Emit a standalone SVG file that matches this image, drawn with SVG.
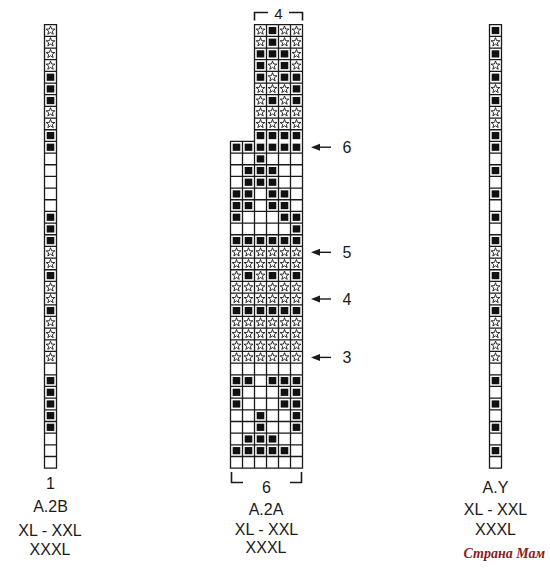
<svg xmlns="http://www.w3.org/2000/svg" xmlns:xlink="http://www.w3.org/1999/xlink" width="550" height="569" viewBox="0 0 550 569">
<style>
.grid{fill:none;stroke:#1a1a1a;stroke-width:1.3}
.bg{fill:#fff}
.t{font-family:"Liberation Sans",Arial,sans-serif;font-size:16px;fill:#1a1a1a;text-anchor:middle}
.br{fill:none;stroke:#1a1a1a;stroke-width:1.6}
.ar{stroke:#1a1a1a;stroke-width:1.4;fill:none}
</style>
<defs>
<rect id="B" x="-3.8" y="-3.6" width="7.6" height="7.2" fill="#111"/>
<path id="S" d="M0,-4.6L1.12,-1.54L4.38,-1.42L1.81,0.59L2.7,3.72L0,1.9L-2.7,3.72L-1.81,0.59L-4.38,-1.42L-1.12,-1.54Z" fill="none" stroke="#1a1a1a" stroke-width="0.9" stroke-linejoin="miter"/>
<marker id="ah" markerUnits="userSpaceOnUse" markerWidth="9" markerHeight="8" refX="0" refY="3.5" orient="auto" viewBox="0 0 9 7">
<path d="M0,0L9,3.5L0,7Z" fill="#1a1a1a"/>
</marker>
</defs>
<rect width="550" height="569" fill="#fff"/>

<g id="chart-A2B">
<rect class="bg" x="44.5" y="24.7" width="12" height="443.46"/>
<path class="grid" d="M44.5 24.7H56.5V468.16H44.5Z M44.5 36.37h12M44.5 48.04h12M44.5 59.71h12M44.5 71.38h12M44.5 83.05h12M44.5 94.72h12M44.5 106.39h12M44.5 118.06h12M44.5 129.73h12M44.5 141.4h12M44.5 153.07h12M44.5 164.74h12M44.5 176.41h12M44.5 188.08h12M44.5 199.75h12M44.5 211.42h12M44.5 223.09h12M44.5 234.76h12M44.5 246.43h12M44.5 258.1h12M44.5 269.77h12M44.5 281.44h12M44.5 293.11h12M44.5 304.78h12M44.5 316.45h12M44.5 328.12h12M44.5 339.79h12M44.5 351.46h12M44.5 363.13h12M44.5 374.8h12M44.5 386.47h12M44.5 398.14h12M44.5 409.81h12M44.5 421.48h12M44.5 433.15h12M44.5 444.82h12M44.5 456.49h12"/>
<g transform="translate(50.5,0)">
<use href="#S" y="30.54"/><use href="#S" y="42.21"/><use href="#S" y="53.88"/><use href="#S" y="65.55"/>
<use href="#B" y="77.22"/><use href="#B" y="88.89"/><use href="#B" y="100.56"/>
<use href="#S" y="112.23"/><use href="#S" y="123.9"/>
<use href="#B" y="135.57"/><use href="#B" y="147.24"/>
<use href="#B" y="217.26"/><use href="#B" y="228.93"/><use href="#B" y="240.6"/>
<use href="#S" y="252.27"/><use href="#S" y="263.94"/>
<use href="#B" y="275.61"/>
<use href="#S" y="287.28"/><use href="#S" y="298.95"/>
<use href="#B" y="310.62"/>
<use href="#S" y="322.29"/><use href="#S" y="333.96"/><use href="#S" y="345.63"/><use href="#S" y="357.3"/>
<use href="#B" y="380.64"/><use href="#B" y="392.31"/><use href="#B" y="403.98"/><use href="#B" y="415.65"/><use href="#B" y="427.32"/>
</g>
<text class="t" x="50.5" y="489">1</text>
<text class="t" x="50.5" y="512">A.2B</text>
<text class="t" x="50" y="536">XL - XXL</text>
<text class="t" x="50" y="555">XXXL</text>
</g>

<g id="chart-A2A">
<rect class="bg" x="254.5" y="24.7" width="48" height="116.7"/>
<rect class="bg" x="230.5" y="141.4" width="72" height="326.76"/>
<path class="grid" d="M254.5 24.7H302.5V468.16H230.5V141.4H254.5Z
M254.5 36.37h48M254.5 48.04h48M254.5 59.71h48M254.5 71.38h48M254.5 83.05h48M254.5 94.72h48M254.5 106.39h48M254.5 118.06h48M254.5 129.73h48
M254.5 141.4V468.16M266.5 24.7V468.16M278.5 24.7V468.16M290.5 24.7V468.16M242.5 141.4V468.16
M230.5 153.07h72M230.5 164.74h72M230.5 176.41h72M230.5 188.08h72M230.5 199.75h72M230.5 211.42h72M230.5 223.09h72M230.5 234.76h72M230.5 246.43h72M230.5 258.1h72M230.5 269.77h72M230.5 281.44h72M230.5 293.11h72M230.5 304.78h72M230.5 316.45h72M230.5 328.12h72M230.5 339.79h72M230.5 351.46h72M230.5 363.13h72M230.5 374.8h72M230.5 386.47h72M230.5 398.14h72M230.5 409.81h72M230.5 421.48h72M230.5 433.15h72M230.5 444.82h72M230.5 456.49h72"/>
<g transform="translate(0,30.54)"><use href="#S" x="260.5"/><use href="#B" x="272.5"/><use href="#S" x="284.5"/><use href="#S" x="296.5"/></g>
<g transform="translate(0,42.21)"><use href="#S" x="260.5"/><use href="#B" x="272.5"/><use href="#S" x="284.5"/><use href="#S" x="296.5"/></g>
<g transform="translate(0,53.88)"><use href="#B" x="260.5"/><use href="#B" x="272.5"/><use href="#B" x="284.5"/><use href="#S" x="296.5"/></g>
<g transform="translate(0,65.55)"><use href="#B" x="260.5"/><use href="#S" x="272.5"/><use href="#B" x="284.5"/><use href="#S" x="296.5"/></g>
<g transform="translate(0,77.22)"><use href="#B" x="260.5"/><use href="#S" x="272.5"/><use href="#B" x="284.5"/><use href="#B" x="296.5"/></g>
<g transform="translate(0,88.89)"><use href="#S" x="260.5"/><use href="#S" x="272.5"/><use href="#S" x="284.5"/><use href="#B" x="296.5"/></g>
<g transform="translate(0,100.56)"><use href="#S" x="260.5"/><use href="#B" x="272.5"/><use href="#S" x="284.5"/><use href="#B" x="296.5"/></g>
<g transform="translate(0,112.23)"><use href="#S" x="260.5"/><use href="#S" x="272.5"/><use href="#S" x="284.5"/><use href="#S" x="296.5"/></g>
<g transform="translate(0,123.9)"><use href="#S" x="260.5"/><use href="#S" x="272.5"/><use href="#S" x="284.5"/><use href="#S" x="296.5"/></g>
<g transform="translate(0,135.57)"><use href="#B" x="260.5"/><use href="#B" x="272.5"/><use href="#B" x="284.5"/><use href="#B" x="296.5"/></g>
<g transform="translate(0,147.24)"><use href="#B" x="236.5"/><use href="#B" x="248.5"/><use href="#B" x="260.5"/><use href="#B" x="272.5"/><use href="#B" x="284.5"/><use href="#B" x="296.5"/></g>
<g transform="translate(0,158.91)"><use href="#B" x="260.5"/></g>
<g transform="translate(0,170.58)"><use href="#B" x="248.5"/><use href="#B" x="260.5"/><use href="#B" x="272.5"/></g>
<g transform="translate(0,182.25)"><use href="#B" x="248.5"/><use href="#B" x="260.5"/><use href="#B" x="272.5"/></g>
<g transform="translate(0,193.92)"><use href="#B" x="236.5"/><use href="#B" x="248.5"/><use href="#B" x="272.5"/><use href="#B" x="284.5"/></g>
<g transform="translate(0,205.59)"><use href="#B" x="236.5"/><use href="#B" x="248.5"/><use href="#B" x="272.5"/><use href="#B" x="284.5"/></g>
<g transform="translate(0,217.26)"><use href="#B" x="236.5"/><use href="#B" x="284.5"/><use href="#B" x="296.5"/></g>
<g transform="translate(0,228.93)"><use href="#B" x="296.5"/></g>
<g transform="translate(0,240.6)"><use href="#B" x="236.5"/><use href="#B" x="248.5"/><use href="#B" x="260.5"/><use href="#B" x="272.5"/><use href="#B" x="284.5"/><use href="#B" x="296.5"/></g>
<g transform="translate(0,252.27)"><use href="#S" x="236.5"/><use href="#S" x="248.5"/><use href="#S" x="260.5"/><use href="#S" x="272.5"/><use href="#S" x="284.5"/><use href="#S" x="296.5"/></g>
<g transform="translate(0,263.94)"><use href="#S" x="236.5"/><use href="#S" x="248.5"/><use href="#S" x="260.5"/><use href="#S" x="272.5"/><use href="#S" x="284.5"/><use href="#S" x="296.5"/></g>
<g transform="translate(0,275.61)"><use href="#S" x="236.5"/><use href="#B" x="248.5"/><use href="#S" x="260.5"/><use href="#B" x="272.5"/><use href="#S" x="284.5"/><use href="#B" x="296.5"/></g>
<g transform="translate(0,287.28)"><use href="#S" x="236.5"/><use href="#S" x="248.5"/><use href="#S" x="260.5"/><use href="#S" x="272.5"/><use href="#S" x="284.5"/><use href="#S" x="296.5"/></g>
<g transform="translate(0,298.95)"><use href="#S" x="236.5"/><use href="#S" x="248.5"/><use href="#S" x="260.5"/><use href="#S" x="272.5"/><use href="#S" x="284.5"/><use href="#S" x="296.5"/></g>
<g transform="translate(0,310.62)"><use href="#B" x="236.5"/><use href="#B" x="248.5"/><use href="#B" x="260.5"/><use href="#B" x="272.5"/><use href="#B" x="284.5"/><use href="#B" x="296.5"/></g>
<g transform="translate(0,322.29)"><use href="#S" x="236.5"/><use href="#S" x="248.5"/><use href="#S" x="260.5"/><use href="#S" x="272.5"/><use href="#S" x="284.5"/><use href="#S" x="296.5"/></g>
<g transform="translate(0,333.96)"><use href="#S" x="236.5"/><use href="#S" x="248.5"/><use href="#S" x="260.5"/><use href="#S" x="272.5"/><use href="#S" x="284.5"/><use href="#S" x="296.5"/></g>
<g transform="translate(0,345.63)"><use href="#S" x="236.5"/><use href="#S" x="248.5"/><use href="#S" x="260.5"/><use href="#S" x="272.5"/><use href="#S" x="284.5"/><use href="#S" x="296.5"/></g>
<g transform="translate(0,357.3)"><use href="#S" x="236.5"/><use href="#S" x="248.5"/><use href="#S" x="260.5"/><use href="#S" x="272.5"/><use href="#S" x="284.5"/><use href="#S" x="296.5"/></g>
<g transform="translate(0,380.64)"><use href="#B" x="236.5"/><use href="#B" x="248.5"/><use href="#B" x="272.5"/><use href="#B" x="284.5"/><use href="#B" x="296.5"/></g>
<g transform="translate(0,392.31)"><use href="#B" x="236.5"/><use href="#B" x="284.5"/><use href="#B" x="296.5"/></g>
<g transform="translate(0,403.98)"><use href="#B" x="236.5"/><use href="#B" x="284.5"/><use href="#B" x="296.5"/></g>
<g transform="translate(0,415.65)"><use href="#B" x="260.5"/><use href="#B" x="296.5"/></g>
<g transform="translate(0,427.32)"><use href="#B" x="260.5"/><use href="#B" x="296.5"/></g>
<g transform="translate(0,438.99)"><use href="#B" x="248.5"/><use href="#B" x="260.5"/><use href="#B" x="272.5"/></g>
<g transform="translate(0,450.66)"><use href="#B" x="236.5"/><use href="#B" x="248.5"/><use href="#B" x="260.5"/><use href="#B" x="272.5"/><use href="#B" x="284.5"/></g>
<path class="br" d="M254.5 20.5V12.5H268M289 12.5H302.5V20.5"/>
<text class="t" x="278.5" y="19" style="font-size:15px">4</text>
<path class="br" d="M231.5 472V482.5H243M290 482.5H301.5V472"/>
<text class="t" x="266.5" y="493">6</text>
<text class="t" x="266" y="515">A.2A</text>
<text class="t" x="266.5" y="535">XL - XXL</text>
<text class="t" x="266" y="553">XXXL</text>
</g>

<g id="chart-AY">
<rect class="bg" x="489.5" y="24.7" width="12" height="443.46"/>
<path class="grid" d="M489.5 24.7H501.5V468.16H489.5Z M489.5 36.37h12M489.5 48.04h12M489.5 59.71h12M489.5 71.38h12M489.5 83.05h12M489.5 94.72h12M489.5 106.39h12M489.5 118.06h12M489.5 129.73h12M489.5 141.4h12M489.5 153.07h12M489.5 164.74h12M489.5 176.41h12M489.5 188.08h12M489.5 199.75h12M489.5 211.42h12M489.5 223.09h12M489.5 234.76h12M489.5 246.43h12M489.5 258.1h12M489.5 269.77h12M489.5 281.44h12M489.5 293.11h12M489.5 304.78h12M489.5 316.45h12M489.5 328.12h12M489.5 339.79h12M489.5 351.46h12M489.5 363.13h12M489.5 374.8h12M489.5 386.47h12M489.5 398.14h12M489.5 409.81h12M489.5 421.48h12M489.5 433.15h12M489.5 444.82h12M489.5 456.49h12"/>
<g transform="translate(495.5,0)">
<use href="#B" y="30.54"/><use href="#S" y="42.21"/><use href="#B" y="53.88"/><use href="#S" y="65.55"/>
<use href="#B" y="77.22"/><use href="#S" y="88.89"/><use href="#B" y="100.56"/>
<use href="#S" y="112.23"/><use href="#S" y="123.9"/>
<use href="#B" y="135.57"/><use href="#B" y="147.24"/>
<use href="#B" y="170.58"/><use href="#B" y="193.92"/><use href="#B" y="217.26"/><use href="#B" y="240.6"/>
<use href="#S" y="252.27"/><use href="#S" y="263.94"/>
<use href="#B" y="275.61"/>
<use href="#S" y="287.28"/><use href="#S" y="298.95"/>
<use href="#B" y="310.62"/>
<use href="#S" y="322.29"/><use href="#S" y="333.96"/><use href="#S" y="345.63"/><use href="#S" y="357.3"/>
<use href="#B" y="380.64"/><use href="#B" y="403.98"/><use href="#B" y="427.32"/><use href="#B" y="450.66"/>
</g>
<text class="t" x="495.5" y="493">A.Y</text>
<text class="t" x="495.5" y="515">XL - XXL</text>
<text class="t" x="495.5" y="535">XXXL</text>
</g>

<g id="connectors">
<line class="ar" x1="331" y1="147.2" x2="320" y2="147.2" marker-end="url(#ah)"/>
<line class="ar" x1="331" y1="252.3" x2="320" y2="252.3" marker-end="url(#ah)"/>
<line class="ar" x1="331" y1="299" x2="320" y2="299" marker-end="url(#ah)"/>
<line class="ar" x1="331" y1="357.4" x2="320" y2="357.4" marker-end="url(#ah)"/>
</g>
<g id="arrow-labels">
<text class="t" x="347" y="153">6</text>
<text class="t" x="347" y="258">5</text>
<text class="t" x="347" y="304.7">4</text>
<text class="t" x="347" y="363">3</text>
</g>
<text x="545" y="558" style="font-family:'Liberation Serif',serif;font-style:italic;font-weight:bold;font-size:14px;fill:#8a1c1c;text-anchor:end">Страна Мам</text>
</svg>
